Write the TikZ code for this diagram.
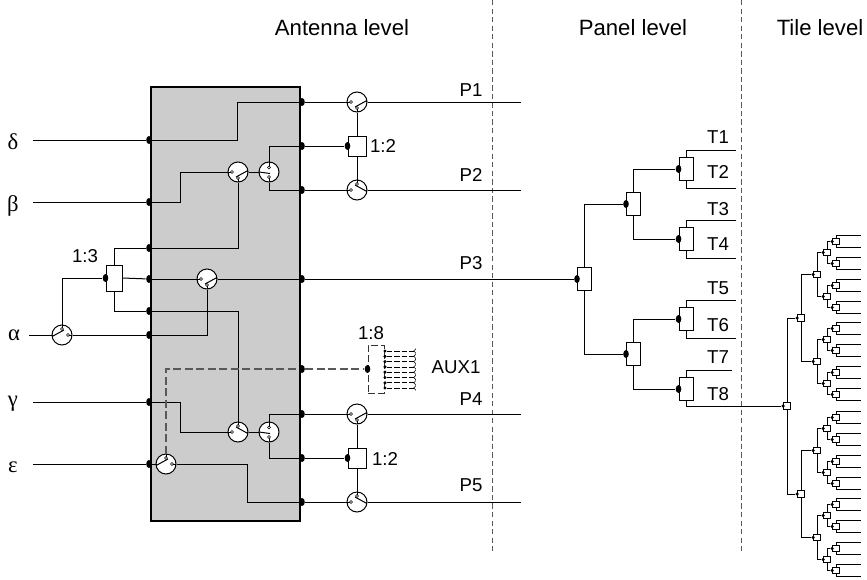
\documentclass[tikz,border=0pt]{standalone}
\usepackage{fontspec}
\setmainfont{Liberation Sans}
\newfontfamily\greekfont{Liberation Serif}
\usetikzlibrary{arrows, positioning, shapes.geometric}

% one child box of a splitter tree, with its feed
\newcommand{\branch}[6]{
    \node[#1] (#3) [#4=#5 of #6] {};
    \node[#2] (#3p) at (#3.west) {};
    \draw (#6) |- (#3p);
}
% last box of the tile tree, with its two outputs
\newcommand{\tileleaf}[3]{
    \branch{tilebox}{tileport}{#1}{#2}{8.25pt and 6.75pt}{#3}
    \coordinate[above right=4.5pt and 18.75pt of #1] (#1a);
    \coordinate[below right=4.5pt and 18.75pt of #1] (#1b);
    \draw (#1) |- (#1a);
    \draw (#1) |- (#1b);
}
% switch with contacts left and bottom, common on the right
\newcommand{\switchnode}[3][]{
    \node[switchbox] (#2) at (#3) {};
    \begin{scope}[shift={(#3)},#1]
        \draw (-10,0) -- (-6,0);
        \draw (0,10) -- (0,6);
        \draw (-2,5) -- (9,-1) -- (10,0);
        \node[contact] (#2l) at (-6,0) {};
        \node[contact] (#2b) at (0,6) {};
    \end{scope}
}
% switch with contacts top and bottom, common on the left
\newcommand{\transfernode}[2]{
    \node[switchbox] (#1) at (#2) {};
    \begin{scope}[shift={(#2)}]
        \draw (0,-10) -- (0,-4.5);
        \draw (0,10) -- (0,5);
        \draw (-10,0) -- (1,1.5);
        \node[contact] (#1t) at (0,-4.5) {};
        \node[contact] (#1b) at (0,5) {};
    \end{scope}
}

\begin{document}
\begin{tikzpicture}[
            x=.75pt,
            y=-.75pt,
            on grid,
            line width=.75pt,
            >=to
        ]

        \tikzstyle{lbl}=[inner sep=0pt, font=\fontsize{14}{16}\selectfont]
        \tikzstyle{head}=[inner sep=0pt, font=\fontsize{16.6}{19}\selectfont]
        \tikzstyle{greek}=[inner sep=0pt, font=\greekfont\fontsize{17}{19}\selectfont]
        \tikzstyle{port}=[ellipse, fill=black, inner sep=0pt, minimum width=4.2pt, minimum height=6pt]
        \tikzstyle{tileport}=[circle, fill=black, inner sep=0pt, minimum size=2.6pt]
        \tikzstyle{switchbox}=[circle, draw, fill=white, inner sep=0pt, minimum size=15pt]
        \tikzstyle{contact}=[circle, draw, fill=white, line width=.45pt, inner sep=0pt, minimum size=2.2pt]
        \tikzstyle{splitbox}=[rectangle, draw, fill=white, inner sep=0pt]
        \tikzstyle{panelbox}=[splitbox, minimum width=10.5pt, minimum height=17.25pt]
        \tikzstyle{tilebox}=[splitbox, minimum width=5pt, minimum height=5pt]
        \tikzstyle{auxline}=[draw=black!65, line width=.9pt, dash pattern=on 6pt off 2.6pt]
        \tikzstyle{levelline}=[draw=black!65, line width=.7pt, dash pattern=on 4pt off 2.4pt]

        \useasboundingbox (0,0) rectangle (867,579);

        % Level borders
        \coordinate (la) at (492,0);
        \coordinate (lb) at (492,552);
        \coordinate (lc) at (741,0);
        \coordinate (ld) at (741,552);
        \path[levelline] (la) edge node {} (lb);
        \path[levelline] (lc) edge node {} (ld);

        \node[head] (hant) at (342,28) {Antenna level};
        \node[head] (hpan) at (633,28) {Panel level};
        \node[head] (htil) at (820,28) {Tile level};

        % Antenna level
        \node[rectangle, draw, fill=black!20, line width=1.5pt, minimum width=111.75pt, minimum height=325.5pt, inner sep=0pt] (core) at (225.5,304) {};

        \node[greek] (gd) at (13,142) {δ};
        \node[greek] (gb) at (13,206) {β};
        \node[greek] (ga) at (14,335) {α};
        \node[greek] (gg) at (13,404) {γ};
        \node[greek] (ge) at (13,467) {ε};

        \coordinate (id) at (33,140);
        \coordinate (ib) at (33,202);
        \coordinate (ia) at (29,335);
        \coordinate (ig) at (33,402);
        \coordinate (ie) at (33,464);

        \node[port] (pd) at (149,140) {};
        \node[port] (pb) at (149,202) {};
        \node[port] (pu) at (149,248) {};
        \node[port] (pm) at (149,279) {};
        \node[port] (pl) at (149,311) {};
        \node[port] (pa) at (149,335) {};
        \node[port] (pg) at (149,402) {};
        \node[port] (pe) at (149,464) {};

        \node[port] (qa) at (302,102) {};
        \node[port] (qb) at (302,146) {};
        \node[port] (qc) at (302,190) {};
        \node[port] (qd) at (302,279) {};
        \node[port] (qe) at (302,369) {};
        \node[port] (qf) at (302,414) {};
        \node[port] (qg) at (302,458) {};
        \node[port] (qh) at (302,502) {};

        \switchnode{swa}{238,172}
        \transfernode{swb}{269,172}
        \switchnode{swc}{207,279}
        \switchnode[yscale=-1]{swd}{238,432}
        \transfernode{swe}{269,432}
        \switchnode[rotate=180]{swf}{166,464}
        \switchnode[rotate=180]{swg}{62,335}

        \switchnode{swp}{357,102}
        \switchnode[yscale=-1]{swq}{357,190}
        \switchnode{swr}{357,414}
        \switchnode[yscale=-1]{sws}{357,502}

        \node[splitbox, minimum width=12pt, minimum height=19.5pt] (sthree) at (114,278) {};
        \node[port] (sthreep) at (sthree.west) {};
        \node[lbl] (lthree) at (85,256) {1:3};

        \node[splitbox, minimum width=13.5pt, minimum height=15pt] (stwoa) at (357,146) {};
        \node[port] (stwoap) at (stwoa.west) {};
        \node[lbl] (ltwoa) at (383,146) {1:2};
        \node[splitbox, minimum width=13.5pt, minimum height=15pt] (stwob) at (357,458) {};
        \node[port] (stwobp) at (stwob.west) {};
        \node[lbl] (ltwob) at (385,459) {1:2};

        \path[-] (id) edge node {} (pd);
        \path[-] (ib) edge node {} (pb);
        \path[-] (ig) edge node {} (pg);
        \path[-] (ie) edge node {} (pe);
        \path[-] (ia) edge node {} (swg.west);
        \path[-] (swg.east) edge node {} (pa);
        \draw (swg.north) |- (sthreep);
        \draw (sthree) |- (pu);
        \draw (sthree) |- (pl);
        \draw (sthree.east) -- (pm);

        \draw (pd) -- ++(88,0) |- (qa);
        \draw (pb) -- ++(31,0) |- (swa.west);
        \path[-] (swa.east) edge node {} (swb.west);
        \draw (swb.north) |- (qb);
        \draw (swb.south) |- (qc);
        \draw (swa.south) |- (pu);
        \path[-] (pm) edge node {} (swc.west);
        \path[-] (swc.east) edge node {} (qd);
        \draw (swc.south) |- (pa);
        \draw (pl) -| (swd.north);
        \draw (pg) -- ++(31,0) |- (swd.west);
        \path[-] (swd.east) edge node {} (swe.west);
        \draw (swe.north) |- (qf);
        \draw (swe.south) |- (qg);
        \path[-] (pe) edge node {} (swf.west);
        \draw (swf.east) -- ++(71,0) |- (qh);

        % Outputs
        \coordinate (oa) at (521,102);
        \coordinate (ob) at (521,190);
        \coordinate (od) at (521,414);
        \coordinate (oe) at (521,502);
        \path[-] (qa) edge node {} (swp.west);
        \path[-] (swp.east) edge node {} (oa);
        \path[-] (qc) edge node {} (swq.west);
        \path[-] (swq.east) edge node {} (ob);
        \path[-] (qf) edge node {} (swr.west);
        \path[-] (swr.east) edge node {} (od);
        \path[-] (qh) edge node {} (sws.west);
        \path[-] (sws.east) edge node {} (oe);
        \path[-] (qb) edge node {} (stwoap);
        \path[-] (qg) edge node {} (stwobp);
        \path[-] (swp.south) edge node {} (stwoa.north);
        \path[-] (stwoa.south) edge node {} (swq.north);
        \path[-] (swr.south) edge node {} (stwob.north);
        \path[-] (stwob.south) edge node {} (sws.north);

        \node[lbl] (lpa) at (471,90) {P1};
        \node[lbl] (lpb) at (471,175) {P2};
        \node[lbl] (lpc) at (471,263) {P3};
        \node[lbl] (lpd) at (471,399) {P4};
        \node[lbl] (lpe) at (471,485) {P5};

        % AUX feed
        \node[rectangle, draw=black!80, dash pattern=on 5pt off 2.5pt, fill=white, inner sep=0pt, minimum width=12pt, minimum height=36pt] (saux) at (376,369) {};
        \node[port] (sauxp) at (saux.west) {};
        \draw[auxline] (swf.north) |- (qe);
        \path[auxline] (qe) edge node {} (sauxp);
        \foreach \i/\yy in {1/351, 2/356.3, 3/361.6, 4/366.9, 5/372.2, 6/377.5, 7/382.8, 8/388} {
            \node[circle, fill=black, inner sep=0pt, minimum size=2.6pt] (auxp\i) at (385,\yy) {};
            \coordinate (auxe\i) at (416,\yy);
            \path[-<, line width=.5pt, dash pattern=on 3.8pt off 1.6pt] (auxp\i) edge node {} (auxe\i);
        }
        \node[lbl] (leight) at (371,333) {1:8};
        \node[lbl] (laux) at (456,367) {AUX1};

        % Panel level
        \node[panelbox] (proot) at (584.5,279) {};
        \node[port] (prootp) at (proot.west) {};
        \path[-] (qd) edge node {} (prootp);

        \branch{panelbox}{port}{pna}{above right}{56.25pt and 36.75pt}{proot}
        \branch{panelbox}{port}{pnb}{below right}{56.25pt and 36.75pt}{proot}
        \branch{panelbox}{port}{pla}{above right}{26.25pt and 39.4pt}{pna}
        \branch{panelbox}{port}{plb}{below right}{26.25pt and 39.4pt}{pna}
        \branch{panelbox}{port}{plc}{above right}{26.25pt and 39.4pt}{pnb}
        \branch{panelbox}{port}{pld}{below right}{26.25pt and 39.4pt}{pnb}

        \coordinate[above right=14.25pt and 37.5pt of pla] (ta);
        \coordinate[below right=14.25pt and 37.5pt of pla] (tb);
        \coordinate[above right=14.25pt and 37.5pt of plb] (tc);
        \coordinate[below right=14.25pt and 37.5pt of plb] (td);
        \coordinate[above right=14.25pt and 37.5pt of plc] (te);
        \coordinate[below right=14.25pt and 37.5pt of plc] (tf);
        \coordinate[above right=14.25pt and 34.5pt of pld] (tg);
        \draw (pla) |- (ta);
        \draw (pla) |- (tb);
        \draw (plb) |- (tc);
        \draw (plb) |- (td);
        \draw (plc) |- (te);
        \draw (plc) |- (tf);
        \draw (pld) |- (tg);

        \node[lbl] (lta) at (718,137) {T1};
        \node[lbl] (ltb) at (718,172) {T2};
        \node[lbl] (ltc) at (718,209) {T3};
        \node[lbl] (ltd) at (718,244) {T4};
        \node[lbl] (lte) at (718,288) {T5};
        \node[lbl] (ltf) at (718,325) {T6};
        \node[lbl] (ltg) at (718,357) {T7};
        \node[lbl] (lth) at (718,394) {T8};

        % Tile level
        \node[tilebox] (troot) at (787,406) {};
        \node[tileport] (trootp) at (troot.west) {};
        \draw (pld) |- (trootp);

        \branch{tilebox}{tileport}{ta1}{above right}{66pt and 10.5pt}{troot}
        \branch{tilebox}{tileport}{tb1}{below right}{66pt and 10.5pt}{troot}

        \branch{tilebox}{tileport}{ta2}{above right}{32.6pt and 12pt}{ta1}
        \branch{tilebox}{tileport}{ta3}{below right}{32.6pt and 12pt}{ta1}
        \branch{tilebox}{tileport}{tb2}{above right}{32.6pt and 12pt}{tb1}
        \branch{tilebox}{tileport}{tb3}{below right}{32.6pt and 12pt}{tb1}

        \branch{tilebox}{tileport}{tc1}{above right}{16.5pt and 7.5pt}{ta2}
        \branch{tilebox}{tileport}{tc2}{below right}{16.5pt and 7.5pt}{ta2}
        \branch{tilebox}{tileport}{tc3}{above right}{16.5pt and 7.5pt}{ta3}
        \branch{tilebox}{tileport}{tc4}{below right}{16.5pt and 7.5pt}{ta3}
        \branch{tilebox}{tileport}{tc5}{above right}{16.5pt and 7.5pt}{tb2}
        \branch{tilebox}{tileport}{tc6}{below right}{16.5pt and 7.5pt}{tb2}
        \branch{tilebox}{tileport}{tc7}{above right}{16.5pt and 7.5pt}{tb3}
        \branch{tilebox}{tileport}{tc8}{below right}{16.5pt and 7.5pt}{tb3}

        \tileleaf{td1}{above right}{tc1}
        \tileleaf{td2}{below right}{tc1}
        \tileleaf{td3}{above right}{tc2}
        \tileleaf{td4}{below right}{tc2}
        \tileleaf{td5}{above right}{tc3}
        \tileleaf{td6}{below right}{tc3}
        \tileleaf{td7}{above right}{tc4}
        \tileleaf{td8}{below right}{tc4}
        \tileleaf{te1}{above right}{tc5}
        \tileleaf{te2}{below right}{tc5}
        \tileleaf{te3}{above right}{tc6}
        \tileleaf{te4}{below right}{tc6}
        \tileleaf{te5}{above right}{tc7}
        \tileleaf{te6}{below right}{tc7}
        \tileleaf{te7}{above right}{tc8}
        \tileleaf{te8}{below right}{tc8}

    \end{tikzpicture}
\end{document}
